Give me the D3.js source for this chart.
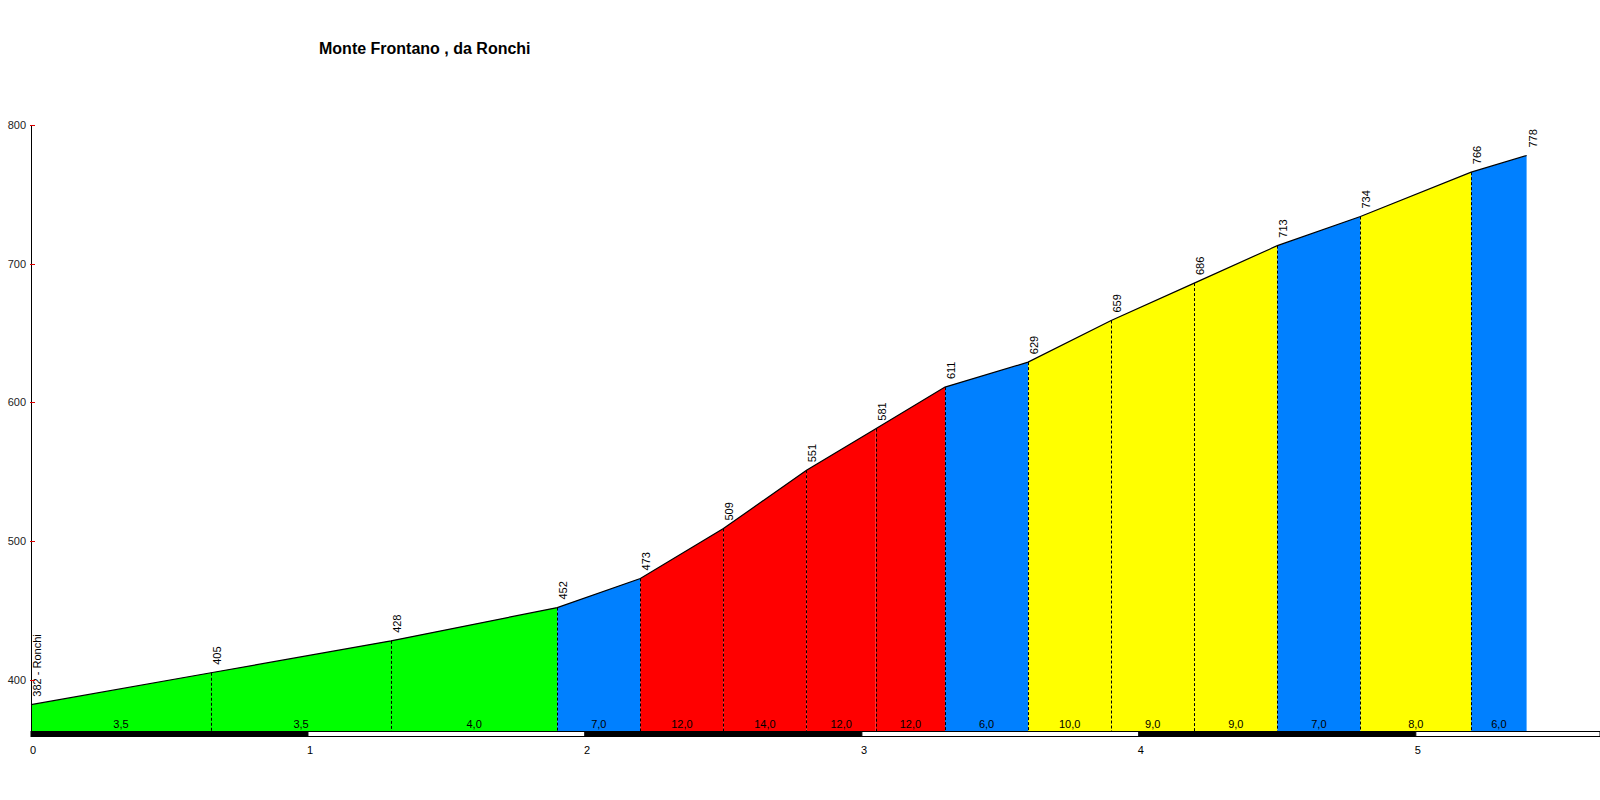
<!DOCTYPE html>
<html>
<head>
<meta charset="utf-8">
<script src="https://cdn.jsdelivr.net/npm/d3@7"></script>
<style>
  html, body { margin: 0; padding: 0; background: #fff; }
  svg { display: block; font-family: Arial, "Liberation Sans", sans-serif; }
</style>
</head>
<body>
<svg id="chart" width="1600" height="800"></svg>
<script>
// ---- data ----
const title = "Monte Frontano , da Ronchi";
const distances = [0, 0.65, 1.3, 1.9, 2.2, 2.5, 2.8, 3.05, 3.3, 3.6, 3.9, 4.2, 4.5, 4.8, 5.2, 5.4];
const elevations = [382, 405, 428, 452, 473, 509, 551, 581, 611, 629, 659, 686, 713, 734, 766, 778];
const pointLabels = ["382 - Ronchi", "405", "428", "452", "473", "509", "551", "581", "611", "629", "659", "686", "713", "734", "766", "778"];
const grades = [3.5, 3.5, 4.0, 7.0, 12.0, 14.0, 12.0, 12.0, 6.0, 10.0, 9.0, 9.0, 7.0, 8.0, 6.0];
const gradeLabels = ["3,5", "3,5", "4,0", "7,0", "12,0", "14,0", "12,0", "12,0", "6,0", "10,0", "9,0", "9,0", "7,0", "8,0", "6,0"];
const yTicks = [400, 500, 600, 700, 800];
const xTicks = [0, 1, 2, 3, 4, 5];
const gradeThresholds = [5, 7.5, 11];
const gradeColors = ["#00ff00", "#0080ff", "#ffff00", "#ff0000"];

// ---- scales ----
const svg = d3.select("#chart");
const x = d3.scaleLinear().domain([0, 5.665]).range([31, 1600]);
const y = d3.scaleLinear().domain([363, 800]).range([731, 125]);
const color = d3.scaleThreshold().domain(gradeThresholds).range(gradeColors);
const yBase = y(363);

// title
svg.append("text").attr("x", 319).attr("y", 54)
  .attr("font-size", 16).attr("font-weight", "bold").attr("fill", "#000")
  .text(title);

// segment fills
const segs = d3.range(distances.length - 1).map(i => ({i}));
const area = d3.area().x(d => x(d[0])).y0(yBase).y1(d => y(d[1]));
svg.append("g").selectAll("path").data(segs).join("path")
  .attr("d", d => area([[distances[d.i], elevations[d.i]], [distances[d.i + 1], elevations[d.i + 1]]]))
  .attr("fill", d => color(grades[d.i]))
  .attr("stroke", "none");

// dashed boundaries
svg.append("g").selectAll("line").data(d3.range(1, distances.length - 1)).join("line")
  .attr("x1", i => Math.round(x(distances[i])) + 0.5).attr("x2", i => Math.round(x(distances[i])) + 0.5)
  .attr("y1", i => y(elevations[i])).attr("y2", yBase)
  .attr("stroke", "#000").attr("stroke-width", 1).attr("stroke-dasharray", "3,2");

// profile line
svg.append("path")
  .datum(distances.map((d, i) => [d, elevations[i]]))
  .attr("d", d3.line().x(d => x(d[0])).y(d => y(d[1])))
  .attr("fill", "none").attr("stroke", "#000").attr("stroke-width", 1.2);

// elevation labels
svg.append("g").selectAll("text").data(pointLabels).join("text")
  .attr("transform", (t, i) => `translate(${x(distances[i]) + 10},${y(elevations[i]) - 8}) rotate(-90)`)
  .attr("font-size", 11).attr("fill", "#000").attr("text-anchor", "start")
  .text(t => t);

// grade labels
svg.append("g").selectAll("text").data(gradeLabels).join("text")
  .attr("x", (t, i) => (x(distances[i]) + x(distances[i + 1])) / 2)
  .attr("y", 728)
  .attr("font-size", 11).attr("fill", "#000").attr("text-anchor", "middle")
  .text(t => t);

// km bar
const kmSegs = d3.range(0, 6).map(k => [k, Math.min(k + 1, 5.665)]);
svg.append("g").selectAll("rect").data(kmSegs).join("rect")
  .attr("x", d => x(d[0])).attr("width", d => x(d[1]) - x(d[0]))
  .attr("y", 731.5).attr("height", 5)
  .attr("fill", (d, i) => i % 2 === 0 ? "#000" : "#fff")
  .attr("stroke", "#000").attr("stroke-width", 1);

// x tick labels
svg.append("g").selectAll("text").data(xTicks).join("text")
  .attr("x", d => x(d) - 1).attr("y", 754)
  .attr("font-size", 11).attr("fill", "#000").attr("text-anchor", "start")
  .text(d => d);

// y axis
svg.append("line").attr("x1", 31.5).attr("x2", 31.5).attr("y1", 125).attr("y2", 737)
  .attr("stroke", "#000").attr("stroke-width", 1);
svg.append("g").selectAll("line").data(yTicks).join("line")
  .attr("x1", 30).attr("x2", 35).attr("y1", d => Math.round(y(d)) + 0.5).attr("y2", d => Math.round(y(d)) + 0.5)
  .attr("stroke", "#e00000").attr("stroke-width", 1);
svg.append("g").selectAll("text").data(yTicks).join("text")
  .attr("x", 26).attr("y", d => y(d) + 4)
  .attr("font-size", 11).attr("fill", "#222").attr("text-anchor", "end")
  .text(d => d);
</script>
</body>
</html>
